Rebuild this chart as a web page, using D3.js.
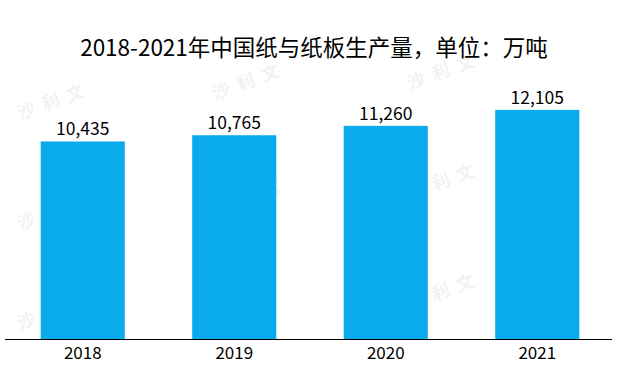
<!DOCTYPE html>
<html><head><meta charset="utf-8">
<script src="https://cdn.jsdelivr.net/npm/d3@7"></script>
<style>body{margin:0;background:#fff}svg{display:block}</style>
</head><body>
<script>
const categories = ["2018", "2019", "2020", "2021"];
const values = [10435, 10765, 11260, 12105];
const valueLabels = ["10,435", "10,765", "11,260", "12,105"];
const title = "2018-2021年中国纸与纸板生产量，单位：万吨";

const W = 627, H = 369;
const font = "'Noto Sans CJK SC','Noto Sans',sans-serif";
const svg = d3.select("body").append("svg").attr("width", W).attr("height", H);

const x = d3.scaleBand().domain(categories).range([7, 613]).paddingInner(0.445).paddingOuter(0.2225);
const y = d3.scaleLinear().domain([0, 14000]).range([339, 74]);

// faint watermark
const wm = [[20,120],[215,100],[410,90],[20,230],[215,215],[410,200],[20,330],[210,320],[410,310]];
svg.selectAll("text.wm").data(wm).enter().append("text").attr("class", "wm")
  .attr("transform", d => `translate(${d[0]},${d[1]}) rotate(-20)`)
  .attr("font-family", font).attr("font-size", 18).attr("font-weight", "bold")
  .attr("fill", "#888").attr("opacity", 0.1).attr("letter-spacing", 8).text("沙利文");

svg.append("text").attr("x", 314).attr("y", 56).attr("text-anchor", "middle")
  .attr("font-family", font).attr("font-size", 22.5).attr("fill", "#000").text(title);

svg.selectAll("rect.bar").data(values).enter().append("rect").attr("class", "bar")
  .attr("x", (d, i) => x(categories[i])).attr("width", x.bandwidth())
  .attr("y", d => y(d)).attr("height", d => y(0) - y(d)).attr("fill", "#0AABEC");

svg.selectAll("text.val").data(values).enter().append("text").attr("class", "val")
  .attr("x", (d, i) => x(categories[i]) + x.bandwidth() / 2).attr("y", d => y(d) - 6)
  .attr("text-anchor", "middle").attr("font-family", font).attr("font-size", 17.5).attr("fill", "#000")
  .text((d, i) => valueLabels[i]);

const ax = svg.append("g").attr("transform", "translate(0,339.5)")
  .call(d3.axisBottom(x).tickSize(0).tickPadding(7));
ax.select(".domain").attr("stroke", "#000").attr("stroke-width", 1.2).attr("d", "M5,0H612");
ax.selectAll("text").attr("font-family", font).attr("font-size", 17).attr("fill", "#000");
</script>
</body></html>
